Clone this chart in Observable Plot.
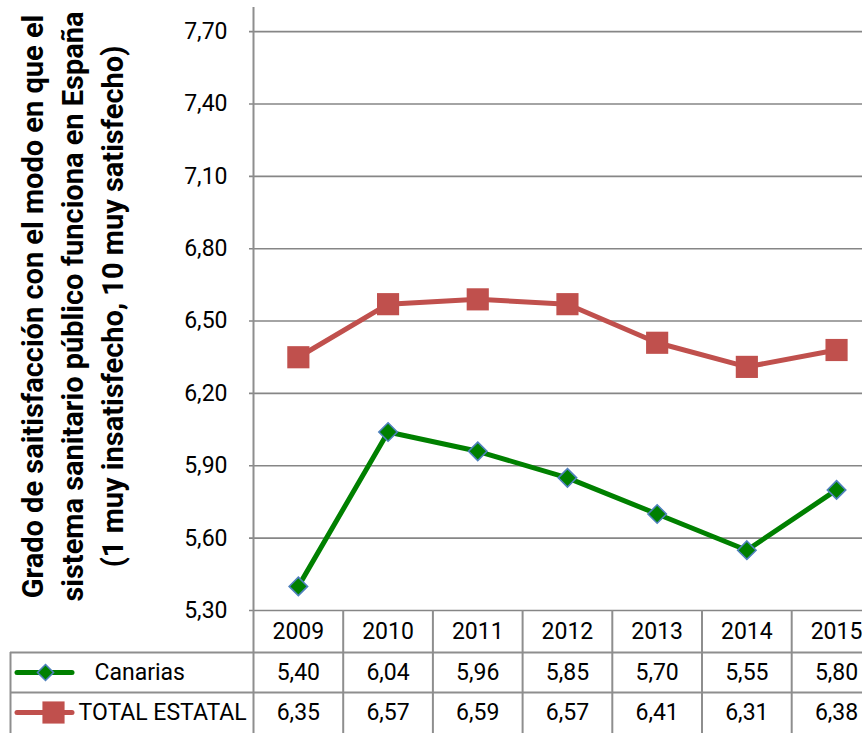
<!DOCTYPE html>
<html>
<head>
<meta charset="utf-8">
<script src="https://cdn.jsdelivr.net/npm/d3@7"></script>
<script src="https://cdn.jsdelivr.net/npm/@observablehq/plot@0.6"></script>
<style>
  html, body { margin: 0; padding: 0; background: #fff; }
  #chart svg { display: block; }
</style>
</head>
<body>
<div id="chart"></div>
<script>
// ---- data ----
const years = [2009, 2010, 2011, 2012, 2013, 2014, 2015];
const canarias = [5.40, 6.04, 5.96, 5.85, 5.70, 5.55, 5.80];
const totalEstatal = [6.35, 6.57, 6.59, 6.57, 6.41, 6.31, 6.38];
const seriesNames = ["Canarias", "TOTAL ESTATAL"];
const yTicks = [5.30, 5.60, 5.90, 6.20, 6.50, 6.80, 7.10, 7.40, 7.70];
const yMax = 7.80;
const titleLines = [
  "Grado de saitisfacción con el modo en que el",
  "sistema sanitario público funciona en España",
  "(1 muy insatisfecho, 10 muy satisfecho)"
];

// ---- layout ----
const W = 862, H = 733;
const plotLeft = 253, plotTop = 7, plotBottom = 610;
const colW = 89.7;
const xMin = years[0] - 0.5, xMax = years[years.length - 1] + 0.5;
const yMin = yTicks[0];
const px2x = p => xMin + (p - plotLeft) / colW;
const px2y = p => yMin + (plotBottom - p) * (yMax - yMin) / (plotBottom - plotTop);
const fmt = v => v.toFixed(2).replace(".", ",");

const rows = years.map((year, i) => ({year, canarias: canarias[i], total: totalEstatal[i]}));

const red = "#C0504D", green = "#008000", blue = "#4F81BD";
const gridC = "#868686", borderC = "#8E8E8E";
const fs = 23;

const rowHeader = 631, rowCan = 672, rowTot = 712;

const chart = Plot.plot({
  width: W,
  height: H,
  marginLeft: 0, marginRight: 0, marginTop: 0, marginBottom: 0,
  style: {fontFamily: "Roboto, sans-serif", color: "#000", background: "#fff"},
  x: {type: "linear", domain: [xMin, xMax], range: [plotLeft, plotLeft + colW * years.length], axis: null},
  y: {type: "linear", domain: [yMin, yMax], range: [plotBottom, plotTop], axis: null},
  marks: [
    // gridlines
    Plot.ruleY(yTicks, {x1: px2x(plotLeft - 4), x2: xMax, stroke: gridC, strokeWidth: 1.6}),
    // axis line
    Plot.ruleX([xMin], {y1: yMax, y2: px2y(H), stroke: borderC, strokeWidth: 2}),
    // table column borders
    Plot.ruleX(years.map(y => y + 0.5), {y1: yMin, y2: px2y(H), stroke: borderC, strokeWidth: 2}),
    // table left border
    Plot.ruleX([px2x(10)], {y1: px2y(652), y2: px2y(H), stroke: borderC, strokeWidth: 2}),
    // table row lines
    Plot.ruleY([px2y(652), px2y(692)], {x1: px2x(10), x2: xMax, stroke: borderC, strokeWidth: 2}),
    // y tick labels
    Plot.text(yTicks, {x: xMin, y: d => d, text: fmt, textAnchor: "end", dx: -26, fontSize: fs, fill: "#000"}),
    // series lines
    Plot.line(rows, {x: "year", y: "total", stroke: red, strokeWidth: 5}),
    Plot.line(rows, {x: "year", y: "canarias", stroke: green, strokeWidth: 5}),
    Plot.dot(rows, {x: "year", y: "total", symbol: "square", r: 12.5, fill: red, stroke: "none"}),
    Plot.dot(rows, {x: "year", y: "canarias", symbol: "diamond2", r: 8.3, fill: green, stroke: blue, strokeWidth: 1.6}),
    // table text
    Plot.text(rows, {x: "year", y: px2y(rowHeader), text: d => String(d.year), fontSize: fs, fill: "#000"}),
    Plot.text(rows, {x: "year", y: px2y(rowCan), text: d => fmt(d.canarias), fontSize: fs, fill: "#000"}),
    Plot.text(rows, {x: "year", y: px2y(rowTot), text: d => fmt(d.total), fontSize: fs, fill: "#000"}),
    // legend swatches
    Plot.ruleY([px2y(rowCan)], {x1: px2x(17), x2: px2x(72), stroke: green, strokeWidth: 5, strokeLinecap: "round"}),
    Plot.dot([0], {x: px2x(45), y: px2y(rowCan), symbol: "diamond2", r: 7.2, fill: green, stroke: blue, strokeWidth: 1.6}),
    Plot.ruleY([px2y(rowTot)], {x1: px2x(17), x2: px2x(72), stroke: red, strokeWidth: 5, strokeLinecap: "round"}),
    Plot.dot([0], {x: px2x(53), y: px2y(rowTot), symbol: "square", r: 12.5, fill: red}),
    Plot.text([seriesNames[0]], {x: px2x(94), y: px2y(rowCan), text: d => d, textAnchor: "start", fontSize: fs, fill: "#000"}),
    Plot.text([seriesNames[1]], {x: px2x(78), y: px2y(rowTot), text: d => d, textAnchor: "start", fontSize: fs, fill: "#000"}),
    // y title
    Plot.text([titleLines.join("\n")], {x: px2x(70), y: px2y(306), text: d => d, rotate: -90, fontSize: 29, fontWeight: "bold", lineHeight: 1.38, fill: "#000"})
  ]
});
document.getElementById("chart").appendChild(chart);
</script>
</body>
</html>
